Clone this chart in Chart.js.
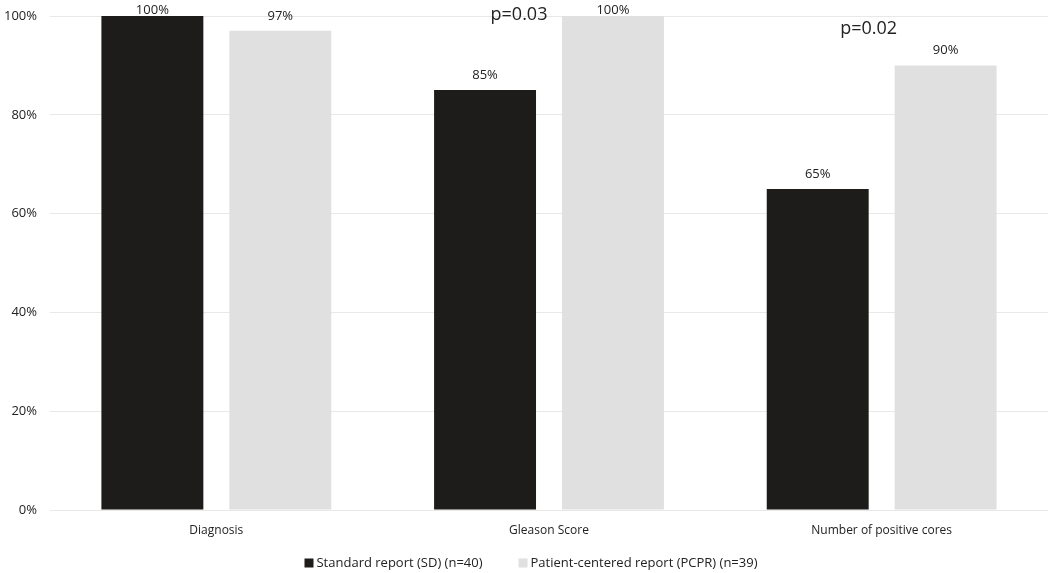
<!DOCTYPE html>
<html>
<head>
<meta charset="utf-8">
<script src="https://cdn.jsdelivr.net/npm/chart.js@4/dist/chart.umd.min.js"></script>
<style>
html,body{margin:0;padding:0;background:#fff;}
#wrap{width:1050px;height:573px;position:relative;}
</style>
</head>
<body>
<div id="wrap"><canvas id="c" width="1050" height="573"></canvas></div>
<script>
const categories = ['Diagnosis', 'Gleason Score', 'Number of positive cores'];
const standardValues = [100, 85, 65];
const patientValues = [97, 100, 90];
const seriesNames = ['Standard report (SD) (n=40)', 'Patient-centered report (PCPR) (n=39)'];
const pValueLabels = ['', 'p=0.03', 'p=0.02'];
const yTicks = [0, 20, 40, 60, 80, 100];

const labelFont = "'Open Sans', sans-serif";

const labelPlugin = {
  id: 'valueLabels',
  afterDatasetsDraw(chart) {
    const ctx = chart.ctx;
    ctx.save();
    ctx.fillStyle = '#222';
    ctx.font = "13px " + labelFont;
    ctx.textAlign = 'center';
    ctx.textBaseline = 'middle';
    chart.data.datasets.forEach((ds, di) => {
      const meta = chart.getDatasetMeta(di);
      meta.data.forEach((bar, i) => {
        const y = Math.max(bar.y - 15, 10);
        ctx.fillText(ds.data[i] + '%', bar.x, y);
      });
    });
    const xs = chart.scales.x, ys = chart.scales.y;
    const pOffsets = [[0, 0], [-30, 100.2], [-13, 97.4]];
    ctx.font = "18px " + labelFont;
    pValueLabels.forEach((t, i) => {
      if (!t) return;
      ctx.fillText(t, xs.getPixelForValue(i) + pOffsets[i][0], ys.getPixelForValue(pOffsets[i][1]));
    });
    ctx.restore();
  }
};

const legendPlugin = {
  id: 'customLegend',
  afterDraw(chart) {
    const ctx = chart.ctx;
    ctx.save();
    ctx.font = "13px " + labelFont;
    ctx.textBaseline = 'middle';
    ctx.textAlign = 'left';
    const box = 9, gapText = 3, gapItem = 36;
    const items = chart.data.datasets.map(ds => ({ text: ds.label, color: ds.backgroundColor, w: ctx.measureText(ds.label).width }));
    let total = 0;
    items.forEach((it, i) => { total += box + gapText + it.w + (i ? gapItem : 0); });
    let x = chart.width / 2 + 6 - total / 2;
    const y = chart.height - 10;
    items.forEach((it, i) => {
      if (i) x += gapItem;
      ctx.fillStyle = it.color;
      ctx.fillRect(x, y - 4.5, box, box);
      x += box + gapText;
      ctx.fillStyle = '#222';
      ctx.fillText(it.text, x, y);
      x += it.w;
    });
    ctx.restore();
  }
};

new Chart(document.getElementById('c'), {
  type: 'bar',
  data: {
    labels: categories,
    datasets: [
      { label: seriesNames[0], data: standardValues, backgroundColor: '#1e1c1a', borderWidth: 0 },
      { label: seriesNames[1], data: patientValues, backgroundColor: '#e0e0e0', borderWidth: 0 }
    ]
  },
  options: {
    responsive: false,
    animation: false,
    devicePixelRatio: 1,
    layout: { padding: { top: 16, right: 2, left: 0, bottom: 30 } },
    datasets: { bar: { categoryPercentage: 0.769, barPercentage: 0.797 } },
    plugins: {
      tooltip: { enabled: false },
      legend: { display: false }
    },
    scales: {
      x: {
        grid: { display: false, drawTicks: false },
        border: { display: false },
        ticks: { font: { family: labelFont, size: 12 }, color: '#222', padding: 13 },
        afterFit(s) { s.height = 33; }
      },
      y: {
        min: 0, max: 100,
        afterBuildTicks(s) { s.ticks = yTicks.map(v => ({ value: v })); },
        grid: { color: '#e8e8e8', drawTicks: false, lineWidth: 1 },
        border: { display: false },
        ticks: { font: { family: labelFont, size: 13 }, color: '#222', padding: 13,
          callback: v => v + '%' },
        afterFit(s) { s.width = 50; s.paddingTop = 0; s.paddingBottom = 0; }
      }
    }
  },
  plugins: [labelPlugin, legendPlugin]
});
</script>
</body>
</html>
